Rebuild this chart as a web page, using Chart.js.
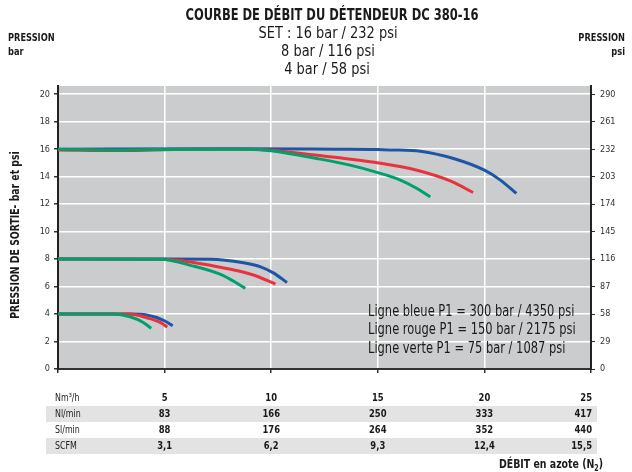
<!DOCTYPE html>
<html>
<head>
<meta charset="utf-8">
<script src="https://cdn.jsdelivr.net/npm/chart.js@4"></script>
<style>
  body { margin: 0; background: #fff; }
  #wrap { width: 632px; height: 472px; }
</style>
</head>
<body>
<div id="wrap"><canvas id="chart"></canvas></div>
<script>
// === Data ===
const barTicks = [0, 2, 4, 6, 8, 10, 12, 14, 16, 18, 20];
const psiTicks = [0, 29, 58, 87, 116, 145, 174, 203, 232, 261, 290];
const flowTicks = [0, 5, 10, 15, 20, 25];

// 16 bar set
const blue16X = [0, 8, 13, 15, 15.6, 17.0, 18.55, 20, 20.75, 21.5];
const blue16Y = [16, 16.03, 16, 15.98, 15.95, 15.85, 15.32, 14.47, 13.75, 12.78];
const red16X = [0, 3, 6, 9, 10, 12.15, 15.04, 16.84, 18.4, 19.47];
const red16Y = [15.95, 15.9, 16, 16, 15.93, 15.56, 15.0, 14.47, 13.69, 12.85];
const green16X = [0, 3, 6, 9, 10, 12.15, 13.7, 15.04, 16.06, 16.84, 17.46];
const green16Y = [16, 15.95, 16, 16, 15.88, 15.32, 14.84, 14.28, 13.75, 13.14, 12.53];

// 8 bar set
const blue8X = [0, 5, 7.14, 8.7, 9.5, 10.1, 10.74];
const blue8Y = [8, 8, 7.99, 7.73, 7.44, 7.0, 6.3];
const red8X = [0, 5, 6.35, 7.9, 9.17, 10.2];
const red8Y = [8, 7.98, 7.76, 7.32, 6.84, 6.18];
const green8X = [0, 4.8, 6.35, 7.6, 8.2, 8.78];
const green8Y = [8, 7.98, 7.49, 6.9, 6.42, 5.87];

// 4 bar set
const blue4X = [0, 3.4, 4.16, 4.93, 5.38];
const blue4Y = [4, 4, 3.93, 3.56, 3.15];
const red4X = [0, 3.38, 4.16, 4.79, 5.13];
const red4Y = [4, 4, 3.73, 3.39, 3.05];
const green4X = [0, 2.6, 3.38, 4.0, 4.37];
const green4Y = [4, 4, 3.8, 3.39, 2.96];

// table under the chart
const tableCols = [5, 10, 15, 20, 25];
const rowLabels = ["Nm³/h", "Nl/min", "Sl/min", "SCFM"];
const nm3h = ["5", "10", "15", "20", "25"];
const nlMin = ["83", "166", "250", "333", "417"];
const slMin = ["88", "176", "264", "352", "440"];
const scfm = ["3,1", "6,2", "9,3", "12,4", "15,5"];

const legendLines = [
  "Ligne bleue P1 = 300 bar / 4350 psi",
  "Ligne rouge P1 = 150 bar / 2175 psi",
  "Ligne verte P1 = 75 bar / 1087 psi"
];

const BLUE = "#1d56a6";
const RED = "#e8323e";
const GREEN = "#00a06b";
const NARROW = "'Liberation Sans Narrow', 'DejaVu Sans Condensed', 'Liberation Sans', sans-serif";

function pts(xs, ys) {
  return xs.map((x, i) => ({ x: x, y: ys[i] }));
}

function line(xs, ys, color, order) {
  return {
    data: pts(xs, ys),
    borderColor: color,
    borderWidth: 3,
    pointRadius: 0,
    fill: false,
    cubicInterpolationMode: "monotone",
    order: order
  };
}

// squeezed text, the original uses a condensed face
function sText(ctx, text, x, y, align, sx) {
  ctx.save();
  ctx.translate(x, y);
  ctx.scale(sx, 1);
  ctx.textAlign = align;
  ctx.fillText(text, 0, 0);
  ctx.restore();
}

// === Plugins ===
const plotBg = {
  id: "plotBg",
  beforeDraw(chart) {
    const { ctx, chartArea: a } = chart;
    ctx.save();
    ctx.fillStyle = "#cbcccd";
    ctx.fillRect(a.left, a.top, a.right - a.left, a.bottom - a.top);
    ctx.restore();
  }
};

const texts = {
  id: "texts",
  afterDraw(chart) {
    const { ctx } = chart;
    const xs = chart.scales.x;
    ctx.save();
    ctx.fillStyle = "#1a1a1a";
    ctx.textBaseline = "middle";

    // title block
    ctx.font = "bold 16px " + NARROW;
    sText(ctx, "COURBE DE DÉBIT DU DÉTENDEUR DC 380-16", 332, 16, "center", 0.8);
    ctx.font = "15px " + NARROW;
    sText(ctx, "SET : 16 bar / 232 psi", 328, 34, "center", 0.96);
    sText(ctx, "8 bar / 116 psi", 328, 52, "center", 0.96);
    sText(ctx, "4 bar / 58 psi", 327, 70, "center", 0.96);

    // corner labels
    ctx.font = "bold 10px " + NARROW;
    sText(ctx, "PRESSION", 8, 38, "left", 0.92);
    sText(ctx, "bar", 8, 52, "left", 0.92);
    sText(ctx, "PRESSION", 625, 38, "right", 0.92);
    sText(ctx, "psi", 625, 52, "right", 0.92);

    // vertical axis title
    ctx.save();
    ctx.translate(16, 235);
    ctx.rotate(-Math.PI / 2);
    ctx.font = "bold 12px " + NARROW;
    sText(ctx, "PRESSION DE SORTIE- bar et psi", 0, 0, "center", 0.86);
    ctx.restore();

    // legend inside plot
    ctx.font = "15px " + NARROW;
    legendLines.forEach((t, i) => sText(ctx, t, 368, 312 + i * 18.5, "left", 0.85));

    // table
    const rows = [nm3h, nlMin, slMin, scfm];
    const rowY = [398, 414, 430, 446];
    ctx.fillStyle = "#e3e3e4";
    [1, 3].forEach(r => ctx.fillRect(46, rowY[r] - 8, 551, 16));
    rows.forEach((vals, r) => {
      ctx.fillStyle = "#1a1a1a";
      ctx.font = "11px " + NARROW;
      sText(ctx, rowLabels[r], 55, rowY[r], "left", 0.8);
      ctx.font = "bold 11px " + NARROW;
      vals.forEach((v, c) => {
        const px = xs.getPixelForValue(tableCols[c]);
        if (c === vals.length - 1) {
          sText(ctx, v, px + 1, rowY[r], "right", 0.85);
        } else {
          sText(ctx, v, px, rowY[r], "center", 0.85);
        }
      });
    });

    // x axis title with subscript
    const sx = 0.87;
    const main = "DÉBIT en azote (N";
    ctx.font = "bold 12px " + NARROW;
    const wMain = ctx.measureText(main).width * sx;
    const wEnd = ctx.measureText(")").width * sx;
    ctx.font = "bold 8px " + NARROW;
    const wSub = ctx.measureText("2").width * sx;
    const x0 = 603 - wMain - wSub - wEnd;
    ctx.font = "bold 12px " + NARROW;
    sText(ctx, main, x0, 465, "left", sx);
    sText(ctx, ")", x0 + wMain + wSub, 465, "left", sx);
    ctx.font = "bold 8px " + NARROW;
    sText(ctx, "2", x0 + wMain, 469, "left", sx);
    ctx.restore();
  }
};

// === Chart ===
const tickFont = { family: NARROW, size: 9 };

new Chart(document.getElementById("chart"), {
  type: "line",
  data: {
    datasets: [
      line(blue16X, blue16Y, BLUE, 3),
      line(red16X, red16Y, RED, 2),
      line(green16X, green16Y, GREEN, 1),
      line(blue8X, blue8Y, BLUE, 3),
      line(red8X, red8Y, RED, 2),
      line(green8X, green8Y, GREEN, 1),
      line(blue4X, blue4Y, BLUE, 3),
      line(red4X, red4Y, RED, 2),
      line(green4X, green4Y, GREEN, 1)
    ]
  },
  options: {
    responsive: true,
    maintainAspectRatio: false,
    animation: false,
    layout: { padding: { top: 86, left: 0, right: 0, bottom: 0 } },
    plugins: {
      legend: { display: false },
      tooltip: { enabled: false }
    },
    scales: {
      x: {
        type: "linear",
        min: 0,
        max: 25,
        afterBuildTicks: (s) => { s.ticks = flowTicks.map(v => ({ value: v })); },
        afterFit: (s) => { s.height = 103; },
        ticks: { display: false },
        grid: { color: "#ffffff", lineWidth: 1.5, tickColor: "#333", tickLength: 4 },
        border: { color: "#333", width: 2 }
      },
      y: {
        position: "left",
        min: 0,
        max: 20.6,
        afterBuildTicks: (s) => { s.ticks = barTicks.map(v => ({ value: v })); },
        afterFit: (s) => { s.width = 58; },
        ticks: { font: tickFont, color: "#333", padding: 4 },
        grid: { color: "#ffffff", lineWidth: 1.5, tickColor: "#333", tickLength: 4 },
        border: { color: "#222", width: 2 }
      },
      y1: {
        position: "right",
        min: 0,
        max: 20.6,
        afterBuildTicks: (s) => { s.ticks = barTicks.map(v => ({ value: v })); },
        afterFit: (s) => { s.width = 41; },
        ticks: {
          font: tickFont,
          color: "#333",
          padding: 5,
          callback: (v, i) => psiTicks[i]
        },
        grid: { drawOnChartArea: false, tickColor: "#333", tickLength: 4 },
        border: { color: "#222", width: 2 }
      }
    }
  },
  plugins: [plotBg, texts]
});
</script>
</body>
</html>
